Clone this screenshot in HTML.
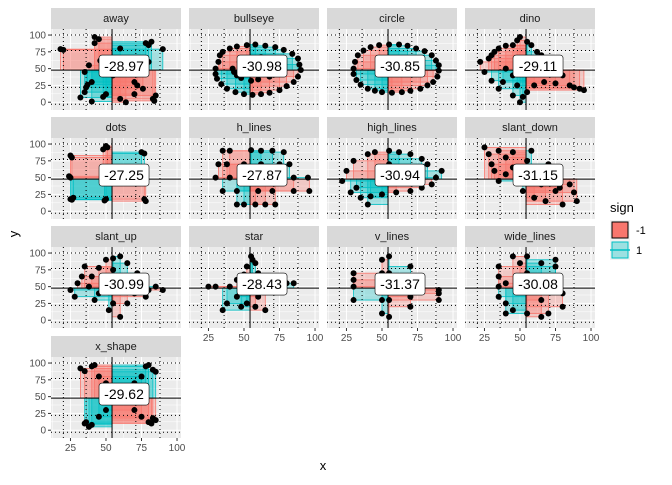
<!DOCTYPE html>
<html><head><meta charset="utf-8"><style>
body{margin:0;background:#fff;font-family:"Liberation Sans",sans-serif}
</style></head><body>
<svg id="c" width="672" height="480" xmlns="http://www.w3.org/2000/svg" font-family="Liberation Sans, sans-serif"></svg>
<script>
const panels=["away","bullseye","circle","dino","dots","h_lines","high_lines","slant_down","slant_up","star","v_lines","wide_lines","x_shape"];
const covs=["-28.97","-30.98","-30.85","-29.11","-27.25","-27.87","-30.94","-31.15","-30.99","-28.43","-31.37","-30.08","-29.62"];
const meanX=54.26, meanY=47.83;
const pts={
away:[[18,79],[32,7],[42,97],[45,94],[40,1],[64,0],[90,79],[82,90],[83,5],[37,26],[38,55],[50,12],[70,30],[60,80],[76,20],[55,40],[46,62],[80,60],[84,2],[35,45],[42,88],[80,85],[85,10],[60,5],[35,15],[40,30],[70,12],[48,8],[78,88],[20,78],[36,22],[72,25]],
bullseye:[[30,50],[33,70],[40,80],[52,85],[65,84],[78,78],[88,65],[90,48],[85,30],[75,18],[62,12],[50,12],[38,20],[31,35],[42,50],[50,65],[62,67],[72,55],[68,38],[55,32],[45,40],[35,75],[45,83],[58,86],[72,82],[84,72],[89,56],[88,38],[80,24],[68,14],[56,11],[44,15],[34,27],[30,42],[32,60],[47,60],[67,62],[70,45],[60,34],[48,36],[43,45]],
circle:[[30,50],[33,70],[42,82],[55,86],[68,84],[80,76],[88,62],[90,47],[86,30],[77,20],[64,15],[50,15],[40,20],[32,33],[31,60],[37,77],[48,85],[62,86],[74,80],[85,70],[90,55],[89,38],[82,25],[70,17],[57,14],[45,17],[35,26],[30,42]],
dino:[[22,60],[25,45],[30,32],[35,20],[45,10],[50,0],[55,15],[60,25],[67,30],[75,28],[85,25],[95,18],[80,40],[70,55],[62,75],[55,90],[50,97],[45,85],[35,80],[30,70],[50,55],[45,40],[28,65],[32,75],[40,84],[48,92],[58,85],[65,70],[72,50],[78,45],[88,22],[92,20],[40,50],[38,30],[48,25],[52,8]],
dots:[[25,83],[50,97],[75,88],[25,50],[50,50],[75,50],[25,18],[50,18],[78,15],[48,92],[27,20],[26,80],[51,95],[77,86],[24,52],[52,48],[76,52],[26,17],[49,16],[77,18]],
h_lines:[[40,90],[55,91],[70,90],[32,70],[50,70],[75,70],[30,50],[50,50],[70,50],[95,50],[35,30],[60,30],[96,30],[45,10],[65,10],[35,90],[62,90],[78,88],[38,70],[62,70],[82,70],[40,50],[60,50],[85,50],[45,30],[70,30],[85,30],[50,10],[58,10],[72,10]],
high_lines:[[30,75],[40,85],[55,90],[70,85],[82,70],[92,60],[85,40],[70,30],[50,25],[35,20],[22,45],[48,60],[60,50],[40,10],[25,60],[32,35],[45,88],[62,88],[78,78],[88,50],[78,35],[60,28],[42,22],[28,28],[55,70],[65,65]],
slant_down:[[25,95],[35,90],[40,80],[30,70],[45,65],[55,55],[50,45],[65,40],[75,30],[60,20],[80,10],[90,15],[85,40],[70,70],[40,55],[28,85],[32,60],[45,88],[55,75],[62,60],[70,45],[78,35],[88,28],[68,15],[52,30],[35,45],[58,90]],
slant_up:[[25,45],[30,55],[40,65],[35,80],[50,90],[60,95],[55,75],[45,40],[55,25],[60,5],[70,40],[80,45],[90,45],[75,60],[60,60],[28,35],[38,50],[45,78],[55,92],[65,85],[72,70],[85,50],[78,35],[65,25],[52,15],[42,30],[33,65]],
star:[[25,50],[40,50],[45,35],[35,15],[52,25],[65,15],[60,35],[75,55],[85,55],[65,60],[58,85],[55,95],[52,80],[45,60],[30,50],[38,25],[48,20],[58,20],[68,45],[80,55],[70,58],[60,70],[56,90],[50,68]],
v_lines:[[30,50],[50,10],[50,90],[55,30],[55,70],[70,20],[70,80],[90,45],[30,70],[50,50],[70,50],[90,30],[30,30],[50,30],[50,70],[55,95],[55,5],[70,35],[70,65],[90,40],[30,60],[55,50]],
wide_lines:[[35,80],[40,25],[35,50],[45,95],[50,85],[55,95],[65,60],[65,5],[70,10],[80,40],[75,90],[40,10],[65,30],[35,65],[35,35],[45,15],[55,70],[65,85],[65,45],[70,55],[75,80],[80,20],[40,55],[55,10]],
x_shape:[[32,92],[42,97],[80,97],[85,87],[35,10],[38,5],[82,10],[85,15],[45,80],[75,80],[45,20],[75,20],[35,88],[40,95],[78,95],[83,90],[36,12],[40,8],[80,12],[83,18],[50,70],[70,70],[50,30],[70,30]]
};
const xTicks=[25,50,75,100], yTicks=[0,25,50,75,100];
const dotX=[20,36,71,88], dotY=[-3,22,77,100];
const NS="http://www.w3.org/2000/svg", svg=document.getElementById('c');
function el(t,a,p){const e=document.createElementNS(NS,t);for(const k in a)e.setAttribute(k,a[k]);(p||svg).appendChild(e);return e;}
const colX=[51,189,327,465], rowY=[29,138,247,357], PW=130, PH=81;
const X0=11.3,X1=102.8,Y0=-11.6,Y1=109;
panels.forEach((name,i)=>{
 const c=i%4,r=Math.floor(i/4),px=colX[c],py=rowY[r];
 const sx=v=>px+(v-X0)/(X1-X0)*PW, sy=v=>py+PH-(v-Y0)/(Y1-Y0)*PH;
 const g=el('g',{});
 
 
 const st=el('rect',{x:px,y:py-21,width:PW,height:21,fill:'#D9D9D9'},g);
 
 
 const stt=el('text',{x:px+PW/2,y:py-7,'text-anchor':'middle','font-size':11,fill:'#1A1A1A'},g);stt.textContent=name;
 el('rect',{x:px,y:py,width:PW,height:PH,fill:'#EBEBEB'},g);
 const cp=el('clipPath',{id:'cp'+i},g);el('rect',{x:px,y:py,width:PW,height:PH},cp);
 const inner=el('g',{'clip-path':'url(#cp'+i+')'},g);
 [12.5,37.5,62.5,87.5].forEach(v=>{el('line',{x1:sx(v),x2:sx(v),y1:py,y2:py+PH,stroke:'#fff','stroke-width':0.5},inner);});
 [-12.5,12.5,37.5,62.5,87.5].forEach(v=>{el('line',{y1:sy(v),y2:sy(v),x1:px,x2:px+PW,stroke:'#fff','stroke-width':0.5},inner);});
 xTicks.forEach(v=>el('line',{x1:sx(v),x2:sx(v),y1:py,y2:py+PH,stroke:'#fff','stroke-width':1},inner));
 yTicks.forEach(v=>el('line',{y1:sy(v),y2:sy(v),x1:px,x2:px+PW,stroke:'#fff','stroke-width':1},inner));
 pts[name].forEach(p=>{
  const s=(p[0]-meanX)*(p[1]-meanY);const col=s<0?'#F8766D':'#00BFC4';
  const rr=el('rect',{x:Math.min(sx(p[0]),sx(meanX)),y:Math.min(sy(p[1]),sy(meanY)),width:Math.abs(sx(p[0])-sx(meanX)),height:Math.abs(sy(p[1])-sy(meanY)),fill:col,'fill-opacity':0.3,stroke:col,'stroke-width':0.8},inner);
  
  
 });
 dotX.forEach(v=>el('line',{x1:sx(v),x2:sx(v),y1:py,y2:py+PH,stroke:'#000','stroke-dasharray':'1,3'},inner));
 dotY.forEach(v=>el('line',{y1:sy(v),y2:sy(v),x1:px,x2:px+PW,stroke:'#000','stroke-dasharray':'1,3'},inner));
 el('line',{x1:sx(meanX),x2:sx(meanX),y1:py,y2:py+PH,stroke:'#000','stroke-width':1},inner);
 el('line',{y1:sy(meanY),y2:sy(meanY),x1:px,x2:px+PW,stroke:'#000','stroke-width':1},inner);
 pts[name].forEach(p=>{const d=el('circle',{cx:sx(p[0]),cy:sy(p[1]),r:3,fill:'#000'},inner);
  
  });
 const lx=sx(meanX)+12, ly=sy(meanY)-4;
 const lb=el('rect',{x:lx-25,y:ly-11,width:50,height:22,rx:3,fill:'#fff',stroke:'#000','stroke-width':0.6},g);
 
 
 const lt=el('text',{x:lx,y:ly+5,'text-anchor':'middle','font-size':14,fill:'#000'},g);lt.textContent=covs[i];
 if(c===0){yTicks.forEach(v=>{el('line',{x1:px-3,x2:px,y1:sy(v),y2:sy(v),stroke:'#333'},g);
  const t=el('text',{x:px-5,y:sy(v)+3.5,'text-anchor':'end','font-size':10,fill:'#4D4D4D'},g);t.textContent=v;});}
 if(r===3||(r===2&&c>0)){xTicks.forEach(v=>{el('line',{x1:sx(v),x2:sx(v),y1:py+PH,y2:py+PH+3,stroke:'#333'},g);
  const t=el('text',{x:sx(v),y:py+PH+13,'text-anchor':'middle','font-size':10,fill:'#4D4D4D'},g);t.textContent=v;});}
});
const xt=el('text',{x:323,y:470,'text-anchor':'middle','font-size':13,fill:'#000'});xt.textContent='x';

const yt=el('text',{x:14,y:238,'text-anchor':'middle','font-size':13,fill:'#000',transform:'rotate(-90 14 234)'});yt.textContent='y';

const lg=el('g',{});
const lgt=el('text',{x:610,y:212,'font-size':13,fill:'#000'},lg);lgt.textContent='sign';
[['-1','#F8766D',220],['1','#00BFC4',240]].forEach(d=>{
 el('rect',{x:610,y:d[2],width:20,height:20,fill:'#F2F2F2'},lg);
 const k=el('rect',{x:612,y:d[2]+2,width:16,height:16,fill:d[1],'fill-opacity':d[0]==='-1'?1:0.35,stroke:d[0]==='-1'?'#000':d[1]},lg);
 
 if(d[0]==='1')el('line',{x1:610,x2:630,y1:d[2]+10,y2:d[2]+10,stroke:d[1],'stroke-width':1.5},lg);
 const t=el('text',{x:636,y:d[2]+14,'font-size':11,fill:'#000'},lg);t.textContent=d[0];});
</script>
</body></html>
